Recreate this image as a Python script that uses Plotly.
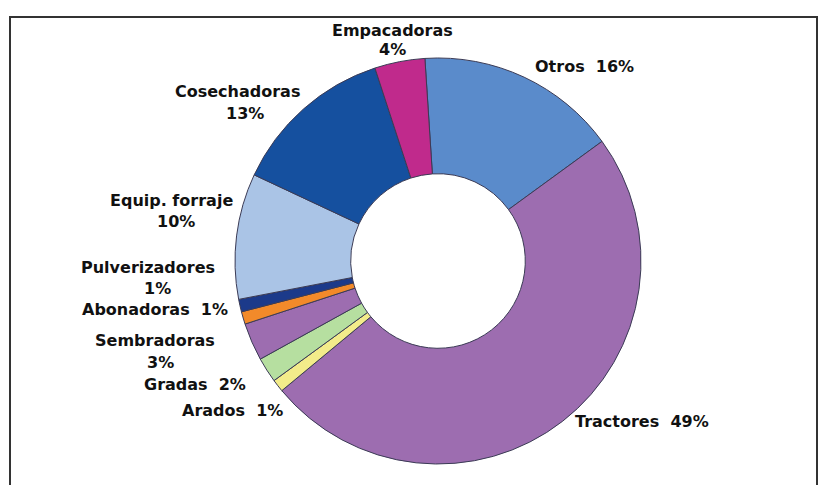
import plotly.graph_objects as go

# ---- data ----
categories = ["Otros", "Tractores", "Arados", "Gradas", "Sembradoras",
              "Abonadoras", "Pulverizadores", "Equip. forraje", "Cosechadoras", "Empacadoras"]
values = [16, 49, 1, 2, 3, 1, 1, 10, 13, 4]
colors = ["#5a8bcb", "#9d6db0", "#f3ec8a", "#b6dfa0", "#9d6db0",
          "#f28a2a", "#1c3a8a", "#aac4e6", "#15509f", "#c02a8c"]

W, H = 827, 485
cx, cy, R = 438, 261, 203

fig = go.Figure(go.Pie(
    labels=categories, values=values, sort=False, direction="clockwise",
    rotation=-3.7, hole=0.43, textinfo="none", hoverinfo="label+percent",
    marker=dict(colors=colors, line=dict(color="#3b3b55", width=1)),
    domain=dict(x=[(cx - R) / W, (cx + R) / W], y=[1 - (cy + R) / H, 1 - (cy - R) / H]),
    showlegend=False,
))

# label layout positions (pixels)
label_pos = {
    "Empacadoras": ("two", 392, 30, 392, 50),
    "Otros": ("one", 584, 67),
    "Cosechadoras": ("two", 237, 91, 245, 113),
    "Equip. forraje": ("two", 171, 200, 176, 222),
    "Pulverizadores": ("two", 148, 267, 157, 288),
    "Abonadoras": ("one", 155, 309),
    "Sembradoras": ("two", 155, 340, 160, 362),
    "Gradas": ("one", 195, 384),
    "Arados": ("one", 232, 410),
    "Tractores": ("one", 642, 421),
}

font = dict(family="DejaVu Sans", size=16, color="#111111")
annotations = []
for cat, val in zip(categories, values):
    p = label_pos[cat]
    if p[0] == "two":
        annotations.append(dict(text=f"<b>{cat}</b>", x=p[1] / W, y=1 - p[2] / H))
        annotations.append(dict(text=f"<b>{val}%</b>", x=p[3] / W, y=1 - p[4] / H))
    else:
        annotations.append(dict(text=f"<b>{cat}  {val}%</b>", x=p[1] / W, y=1 - p[2] / H))
for a in annotations:
    a.update(xref="paper", yref="paper", showarrow=False, xanchor="center",
             yanchor="middle", font=font, borderpad=0)

fig.update_layout(
    width=W, height=H, margin=dict(l=0, r=0, t=0, b=0),
    paper_bgcolor="white", plot_bgcolor="white",
    annotations=annotations,
    shapes=[dict(type="rect", xref="paper", yref="paper",
                 x0=10 / W, x1=817 / W, y0=-0.05, y1=1 - 17 / H,
                 line=dict(color="#333333", width=2), layer="below")],
)

fig.write_html("out.html", config={"displayModeBar": False},
               post_script="document.body.style.margin='0';")
